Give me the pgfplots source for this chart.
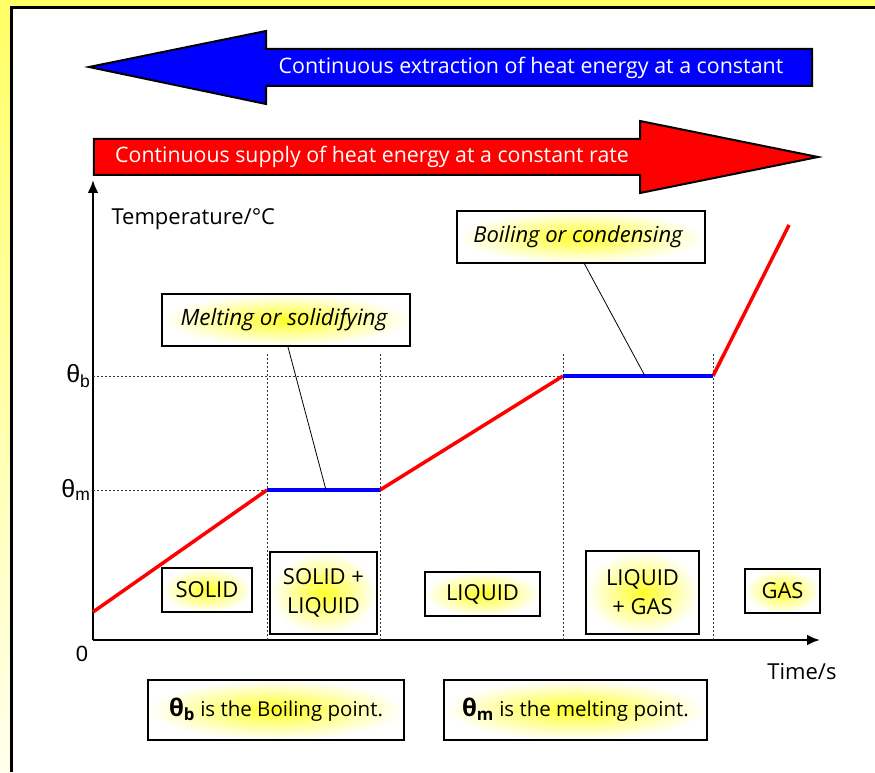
\documentclass[border=0pt]{standalone}
\usepackage{fontspec}
\setmainfont{Open Sans}
\newfontfamily\arialf{Liberation Sans}
\usepackage{pgfplots}
\pgfplotsset{compat=1.18}
\usetikzlibrary{arrows.meta}
\definecolor{yel}{RGB}{255,255,102}
\definecolor{paleyel}{RGB}{255,255,235}
\definecolor{glow}{RGB}{255,255,40}
\newcommand\fs[2]{\fontsize{#1}{#2}\selectfont}
\tikzset{
  boxs/.style={line width=2pt, inner color=glow, outer color=white},
  guide/.style={line width=0.7pt, dash pattern=on 2pt off 2pt, black!80},
}
\begin{document}
\begin{tikzpicture}[x=1pt,y=1pt]
% frame
\fill[white] (-93,-132) rectangle (782,640);
\shade[top color=yel, bottom color=paleyel] (-93,-132) rectangle (-83,640);
\fill[yel] (-93,634) rectangle (782,640);
\fill[black] (-83,-132) rectangle (-80,634);
\fill[black] (-83,631) rectangle (782,634);
\begin{axis}[
  at={(0,0)}, anchor=south west,
  scale only axis, width=727pt, height=460pt,
  xmin=0, xmax=727, ymin=0, ymax=460,
  axis lines=left,
  axis line style={line width=2.5pt, -{Latex[length=13pt,width=11pt]}},
  xtick=\empty, ytick=\empty,
  clip=false,
]
% guides
\draw[guide] (axis cs:174,0) -- (axis cs:174,287);
\draw[guide] (axis cs:287,0) -- (axis cs:287,287);
\draw[guide] (axis cs:470,0) -- (axis cs:470,287);
\draw[guide] (axis cs:620,0) -- (axis cs:620,287);
\draw[guide] (axis cs:0,264) -- (axis cs:470,264);
\draw[guide] (axis cs:0,150) -- (axis cs:174,150);
% data
\addplot[red, line width=3.5pt] coordinates {(0,28) (174,150)};
\addplot[red, line width=3.5pt] coordinates {(287,150) (470,264)};
\addplot[red, line width=3.5pt] coordinates {(620,264) (696,415)};
\addplot[blue, line width=3.5pt] coordinates {(174,150) (287,150)};
\addplot[blue, line width=3.5pt] coordinates {(470,264) (620,264)};
% axis labels
\node[anchor=east, font=\arialf\fs{25}{27}] at (axis cs:1,264) {θ\textsubscript{b}};
\node[anchor=east, font=\arialf\fs{25}{27}] at (axis cs:1,150) {θ\textsubscript{m}};
\node[font=\arialf\fs{22}{24}] at (axis cs:-11,-14) {0};
\node[anchor=west, font=\fs{22}{25}] at (axis cs:15,421) {Temperature/°C};
\node[font=\fs{22}{25}] at (axis cs:709,-32) {Time/s};
% big arrows
\filldraw[fill=blue, draw=black, line width=2pt, line join=miter]
  (axis cs:-4,573) -- (axis cs:173,609) -- (axis cs:173,591) -- (axis cs:719,591) -- (axis cs:719,554) -- (axis cs:173,554) -- (axis cs:173,536) -- cycle;
\node[white, font=\fs{21.4}{24}] at (axis cs:438,572) {Continuous extraction of heat energy at a constant};
\filldraw[fill=red, draw=black, line width=2pt, line join=miter]
  (axis cs:1,501) -- (axis cs:547,501) -- (axis cs:547,519) -- (axis cs:725,483) -- (axis cs:547,447) -- (axis cs:547,465) -- (axis cs:1,465) -- cycle;
\node[white, font=\fs{21.3}{24}] at (axis cs:279,483) {Continuous supply of heat energy at a constant rate};
% callouts
\draw[line width=0.8pt] (axis cs:195,293) -- (axis cs:233,150);
\draw[line width=0.8pt] (axis cs:491,377) -- (axis cs:552,264);
\shadedraw[boxs] (axis cs:69,294) rectangle (axis cs:317,346);
\node[font=\itshape\fs{22.5}{25}] at (axis cs:191,320) {Melting or solidifying};
\shadedraw[boxs] (axis cs:364,377) rectangle (axis cs:612,429);
\node[font=\itshape\fs{22}{25}] at (axis cs:485,403) {Boiling or condensing};
% phase boxes
\shadedraw[boxs] (axis cs:69,28) rectangle (axis cs:159,72);
\node[font=\fs{22}{25}] at (axis cs:114,50) {SOLID};
\shadedraw[boxs] (axis cs:177,6) rectangle (axis cs:284,88);
\node[font=\fs{22}{29}, align=center] at (axis cs:230.5,47) {SOLID +\\LIQUID};
\shadedraw[boxs] (axis cs:332,24) rectangle (axis cs:447,68);
\node[font=\fs{22}{25}] at (axis cs:389.5,46) {LIQUID};
\shadedraw[boxs] (axis cs:493,6) rectangle (axis cs:606,89);
\node[font=\fs{22}{29}, align=center] at (axis cs:549.5,47.5) {LIQUID\\+ GAS};
\shadedraw[boxs] (axis cs:652,27) rectangle (axis cs:727,71);
\node[font=\fs{22}{25}] at (axis cs:689.5,49) {GAS};
% bottom boxes
\shadedraw[boxs] (axis cs:55,-100) rectangle (axis cs:311,-40);
\node[font=\fs{20.5}{23}] at (axis cs:183,-70) {\textbf{\fs{24}{26}θ\textsubscript{b}} is the Boiling point.};
\shadedraw[boxs] (axis cs:351,-100) rectangle (axis cs:614,-40);
\node[font=\fs{20.5}{23}] at (axis cs:482.5,-70) {\textbf{\fs{24}{26}θ\textsubscript{m}} is the melting point.};
\end{axis}
\pgfresetboundingbox
\path[use as bounding box] (-93,-132) rectangle (782,640);
\end{tikzpicture}
\end{document}
